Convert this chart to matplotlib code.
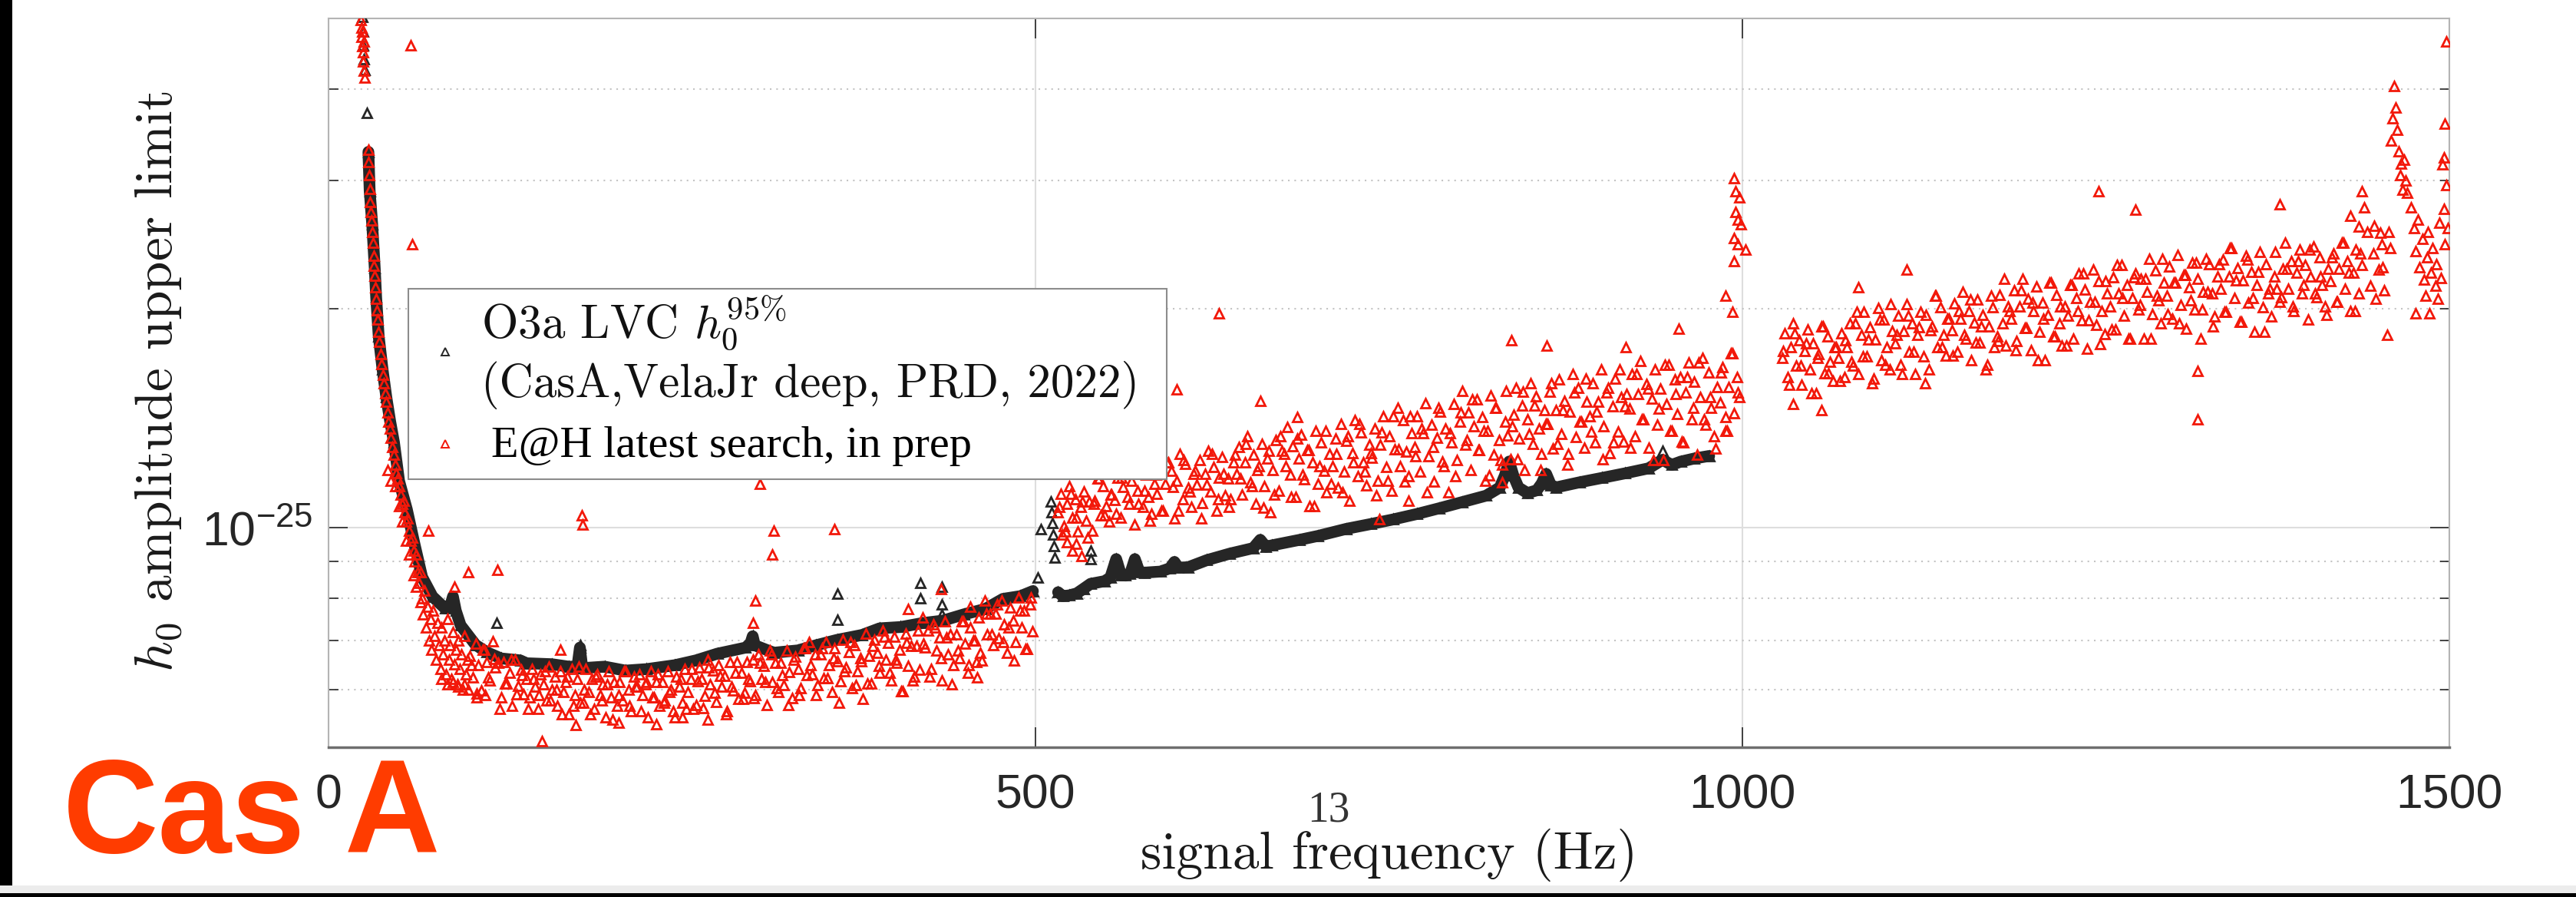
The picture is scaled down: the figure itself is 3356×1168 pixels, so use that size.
import numpy as np
import matplotlib
matplotlib.use("Agg")
import matplotlib.pyplot as plt
from matplotlib.lines import Line2D
from matplotlib.patches import Rectangle
from matplotlib.ticker import FixedLocator, FixedFormatter, NullFormatter


W, H = 3356, 1168
DPI = 100
H_UNIT = 1e-26  # every h0 value below is in units of 1e-26

# ---- O3a LVC h0 95% upper limits (black) ----
black_low_f = [28.2, 29.1, 30.9, 32.7, 33.7, 35.5,
               38.2, 40.9, 43.6, 46.3, 49.9, 55.4, 60.8, 66.2, 73.5, 82.5,
               86.0, 88.0, 90.0, 93.4, 104.0, 112.0, 122.0, 135.5, 140.0, 157.9,
               170.0, 176.0, 177.8, 179.5, 195.3, 210.0, 225.0, 245.0, 260.0, 275.0,
               295.0, 298.5, 300.0, 301.5, 314.9, 332.0, 344.7, 359.8, 377.4, 389.8,
               404.7, 419.7, 434.6, 449.5, 464.5, 477.0, 489.4, 498.2]
black_low_h = [32.8, 29.0, 26.1, 22.7, 20.7, 18.3,
               16.5, 15.1, 14.0, 13.1, 11.6, 10.6, 9.5, 8.56, 8.05, 7.75,
               7.8, 8.05, 7.7, 7.35, 6.91, 6.75, 6.62, 6.58, 6.52, 6.5,
               6.45, 6.45, 6.85, 6.42, 6.45, 6.37, 6.4, 6.48, 6.58, 6.72,
               6.85, 6.95, 7.1, 6.9, 6.74, 6.79, 6.9, 7.02, 7.13, 7.28,
               7.31, 7.4, 7.46, 7.61, 7.74, 7.99, 8.06, 8.19]

black_mid_f = [516.0, 519.3, 524.0, 529.2, 534.0, 539.0, 548.9, 553.0, 557.1, 560.5,
               563.7, 567.0, 570.3, 573.5, 576.9, 588.4, 595.0, 598.3, 601.0, 608.0,
               621.2, 637.6, 654.0, 659.0, 663.0, 667.0, 687.0, 700.0, 720.0, 737.0,
               753.0, 770.0, 785.7, 802.0, 818.7, 828.4, 832.0, 835.0, 838.0, 841.6,
               848.0, 854.6, 858.0, 861.2, 864.5, 868.0, 885.0, 900.8, 917.0, 933.7,
               943.5, 950.0, 956.5, 966.0, 976.5]
black_mid_h = [8.16, 8.06, 8.08, 8.13, 8.25, 8.38, 8.45, 8.55, 9.06, 8.62,
               8.6, 8.65, 9.06, 8.7, 8.68, 8.71, 8.8, 8.98, 8.82, 8.83,
               9.03, 9.22, 9.38, 9.63, 9.42, 9.46, 9.63, 9.75, 9.97, 10.12,
               10.27, 10.45, 10.64, 10.85, 11.07, 11.36, 11.8, 12.33, 11.8, 11.36,
               11.16, 11.26, 11.5, 11.86, 11.45, 11.36, 11.55, 11.71, 11.88, 12.07,
               12.4, 12.2, 12.33, 12.45, 12.55]

black_extra_f = [23.7, 24.3, 24.6, 25.0, 25.5, 27.3, 119.0, 177.8, 360.0, 360.0,
                 418.6, 418.6, 434.0, 434.0, 434.0, 501.6, 504.0, 511.0, 511.5, 512.0,
                 512.5, 513.0, 513.5, 539.0, 539.0, 943.5]
black_extra_h = [50.2, 48.0, 45.9, 44.0, 42.5, 37.1, 7.41, 6.9, 8.13, 7.48,
                 8.4, 8.0, 7.6, 7.85, 8.3, 8.55, 9.97, 10.87, 10.5, 10.15,
                 9.8, 9.45, 9.1, 9.3, 9.06, 12.76]

# ---- E@H latest search (red) ----
red_a_f = [23.0, 23.3, 23.6, 24.0, 24.0, 24.3, 24.6, 24.8, 25.0, 25.3,
           28.0, 28.3, 28.7, 29.1, 29.5, 29.9, 30.3, 30.8, 31.3, 31.8,
           32.3, 32.8, 33.3, 33.8, 34.3, 34.8, 35.4, 36.0, 36.8, 37.6,
           38.4, 39.2, 40.0, 40.8, 41.6, 42.4, 43.2, 44.0, 45.0, 46.0,
           47.0, 48.0, 49.0, 50.0, 51.0, 52.0, 53.0, 54.0, 55.0, 56.0,
           57.0, 58.0, 59.0, 60.0, 61.0, 62.0, 63.0, 64.0, 65.0, 66.0,
           67.0, 68.0, 69.0, 70.0, 71.0, 72.0, 73.0, 74.0, 75.0, 76.0,
           77.0, 78.0, 79.0, 80.0, 81.0, 82.0, 83.0, 84.0, 85.0, 86.0,
           87.0, 88.0, 89.0, 90.0, 91.0, 92.0, 93.0, 94.0, 95.0, 96.0,
           97.0, 98.0, 99.0, 42.0, 44.0, 47.0, 50.0, 52.0, 55.0, 57.0,
           60.0, 62.0, 65.0, 80.0, 84.0, 88.0, 92.0, 96.0]
red_a_h = [49.8, 48.6, 47.2, 45.8, 48.0, 44.9, 43.6, 46.5, 42.4, 41.5,
           33.0, 31.8, 30.5, 29.2, 28.0, 27.1, 26.4, 25.5, 24.6, 23.6,
           22.9, 22.2, 21.4, 20.6, 19.9, 19.3, 18.6, 18.0, 17.3, 16.8,
           16.2, 15.8, 15.3, 14.9, 14.4, 14.0, 13.7, 13.3, 12.9, 12.6,
           12.2, 11.9, 11.7, 11.4, 11.1, 10.8, 10.9, 10.5, 10.2, 10.3,
           9.9, 9.6, 9.7, 9.3, 9.0, 9.2, 8.7, 8.4, 8.7, 8.0,
           7.6, 8.2, 7.3, 7.8, 7.0, 7.5, 6.8, 7.7, 7.1, 6.6,
           7.4, 6.9, 6.4, 7.3, 6.7, 7.0, 6.3, 7.5, 6.6, 6.9,
           6.2, 7.2, 6.5, 6.8, 6.1, 7.0, 6.4, 6.7, 6.0, 7.1,
           6.3, 6.6, 6.0, 12.0, 11.6, 11.4, 10.7, 10.2, 9.6, 9.2,
           8.6, 8.3, 7.9, 6.2, 6.1, 6.15, 6.05, 6.1]

red_low_f = [100, 102, 104, 106, 108, 110, 112, 114, 116, 118, 120, 122, 124, 126, 128, 130, 132, 134, 136, 138,
             140, 142, 144, 146, 148, 150, 152, 154, 156, 158, 160, 162, 164, 166, 168, 170, 172, 174, 176, 178,
             180, 182, 184, 186, 188, 190, 192, 194, 196, 198, 200, 202, 204, 206, 208, 210, 212, 214, 216, 218,
             220, 222, 224, 226, 228, 230, 232, 234, 236, 238, 240, 242, 244, 246, 248, 250, 252, 254, 256, 258,
             260, 262, 264, 266, 268, 270, 272, 274, 276, 278, 280, 282, 284, 286, 288, 290, 292, 294, 296, 298,
             300, 302, 304, 306, 308, 310, 312, 314, 316, 318, 320, 322, 324, 326, 328, 330, 332, 334, 336, 338,
             340, 342, 344, 346, 348, 350, 352, 354, 356, 358, 360, 362, 364, 366, 368, 370, 372, 374, 376, 378,
             380, 382, 384, 386, 388, 390, 392, 394, 396, 398, 400, 402, 404, 406, 408, 410, 412, 414, 416, 418,
             420, 422, 424, 426, 428, 430, 432, 434, 436, 438, 440, 442, 444, 446, 448, 450, 452, 454, 456, 458,
             460, 462, 464, 466, 468, 470, 472, 474, 476, 478, 480, 482, 484, 486, 488, 490, 492, 494, 496, 498]
red_low_h = [6.68, 6.24, 6.93, 6.49, 5.99, 6.80, 6.55, 6.18, 6.99, 6.43,
             6.53, 5.86, 6.54, 6.12, 6.33, 5.70, 6.60, 6.07, 6.39, 5.91,
             6.20, 5.85, 6.40, 6.05, 5.65, 6.30, 6.10, 5.80, 6.45, 6.00,
             6.25, 5.70, 6.35, 5.95, 6.15, 5.55, 6.40, 5.90, 6.20, 5.75,
             5.75, 6.40, 5.95, 6.20, 5.65, 6.30, 5.90, 6.10, 5.50, 6.35,
             5.85, 6.15, 5.70, 6.15, 5.80, 6.35, 6.00, 5.60, 6.25, 6.05,
             6.30, 5.90, 6.10, 5.50, 6.35, 5.85, 6.15, 5.70, 6.15, 5.80,
             6.35, 6.00, 5.60, 6.25, 6.05, 5.75, 6.40, 5.95, 6.20, 5.65,
             5.72, 6.43, 6.21, 5.88, 6.60, 6.10, 6.38, 5.77, 6.49, 6.05,
             6.27, 5.61, 6.54, 5.99, 6.32, 5.83, 6.32, 5.94, 6.54, 6.16,
             6.59, 5.90, 6.71, 6.21, 6.46, 5.71, 6.78, 6.15, 6.53, 5.96,
             6.53, 6.09, 6.78, 6.34, 5.84, 6.65, 6.40, 6.03, 6.84, 6.28,
             6.97, 6.29, 6.70, 6.09, 6.70, 6.22, 6.97, 6.49, 5.95, 6.83,
             6.56, 6.16, 7.03, 6.43, 6.76, 6.02, 6.90, 6.36, 6.63, 5.82,
             7.16, 6.67, 6.11, 7.02, 6.74, 6.32, 7.23, 6.60, 6.95, 6.18,
             7.09, 6.53, 6.81, 5.97, 7.16, 6.46, 6.88, 6.25, 6.88, 6.39,
             7.53, 6.85, 7.23, 6.40, 7.38, 6.78, 7.08, 6.18, 7.45, 6.70,
             7.15, 6.48, 7.15, 6.63, 7.45, 6.93, 6.33, 7.30, 7.00, 6.55,
             7.54, 6.58, 7.94, 7.14, 7.62, 6.90, 7.62, 7.06, 7.94, 7.38,
             6.74, 7.78, 7.46, 6.98, 8.02, 7.30, 7.70, 6.82, 7.86, 7.22]

red_low2_f = [101, 105, 109, 113, 117, 121, 125, 129, 133, 137, 141, 145, 149, 153, 157, 161, 165, 169, 173, 177,
              181, 185, 189, 193, 197, 201, 205, 209, 213, 217, 221, 225, 229, 233, 237, 241, 245, 249, 253, 257,
              261, 265, 269, 273, 277, 281, 285, 289, 293, 297, 301, 305, 309, 313, 317, 321, 325, 329, 333, 337,
              341, 345, 349, 353, 357, 361, 365, 369, 373, 377, 381, 385, 389, 393, 397, 401, 405, 409, 413, 417,
              421, 425, 429, 433, 437, 441, 445, 449, 453, 457, 461, 465, 469, 473, 477, 481, 485, 489, 493, 497]
red_low2_h = [6.49, 5.93, 6.80, 6.24, 6.61, 5.65, 6.12, 6.60, 5.91, 6.28,
              5.65, 6.20, 5.90, 6.35, 5.80, 6.00, 5.55, 6.25, 5.70, 6.45,
              6.00, 5.55, 6.25, 5.80, 6.10, 5.45, 5.90, 6.35, 5.70, 6.05,
              5.60, 6.15, 5.85, 6.30, 5.75, 5.95, 5.50, 6.20, 5.65, 6.40,
              6.16, 5.66, 6.43, 5.94, 6.27, 5.55, 6.05, 6.54, 5.83, 6.21,
              5.84, 6.53, 6.15, 6.71, 6.03, 6.28, 5.71, 6.59, 5.90, 6.84,
              6.49, 5.89, 6.83, 6.22, 6.63, 5.75, 6.36, 6.97, 6.09, 6.56,
              6.11, 6.88, 6.46, 7.09, 6.32, 6.60, 5.97, 6.95, 6.18, 7.23,
              6.93, 6.25, 7.30, 6.63, 7.08, 6.10, 6.78, 7.45, 6.48, 7.00,
              6.74, 7.62, 7.14, 7.86, 6.98, 7.30, 6.58, 7.70, 6.82, 8.02]

red_mid_f = [516, 518, 520, 522, 524, 526, 528, 530, 532, 534, 536, 538, 540, 542, 544, 546, 548, 550, 552, 554,
             556, 558, 560, 562, 564, 566, 568, 570, 572, 574, 576, 578, 580, 582, 584, 586, 588, 590, 592, 594,
             596, 598, 600, 602, 604, 606, 608, 610, 612, 614, 616, 618, 620, 622, 624, 626, 628, 630, 632, 634,
             636, 638, 640, 642, 644, 646, 648, 650, 652, 654, 656, 658, 660, 662, 664, 666, 668, 670, 672, 674,
             676, 678, 680, 682, 684, 686, 688, 690, 692, 694, 696, 698, 700, 702, 704, 706, 708, 710, 712, 714,
             716, 718, 720, 722, 724, 726, 728, 730, 732, 734, 736, 738, 740, 742, 744, 746, 748, 750, 752, 754,
             756, 758, 760, 762, 764, 766, 768, 770, 772, 774, 776, 778, 780, 782, 784, 786, 788, 790, 792, 794,
             796, 798, 800, 802, 804, 806, 808, 810, 812, 814, 816, 818, 820, 822, 824, 826, 828, 830, 832, 834,
             836, 838, 840, 842, 844, 846, 848, 850, 852, 854, 856, 858, 860, 862, 864, 866, 868, 870, 872, 874,
             876, 878, 880, 882, 884, 886, 888, 890, 892, 894, 896, 898, 900, 902, 904, 906, 908, 910, 912, 914,
             916, 918, 920, 922, 924, 926, 928, 930, 932, 934, 936, 938, 940, 942, 944, 946, 948, 950, 952, 954,
             956, 958, 960, 962, 964, 966, 968, 970, 972, 974, 976, 978, 980, 982, 984, 986, 988, 990, 992, 994,
             996, 998]
red_mid_h = [10.51, 11.14, 10.06, 10.78, 11.41, 10.33, 10.96, 9.88, 10.69, 11.23,
             10.24, 10.87, 9.90, 10.90, 11.70, 10.40, 11.40, 10.70, 10.20, 11.10,
             10.91, 11.71, 10.33, 11.37, 12.06, 10.79, 11.60, 10.10, 11.25, 12.17,
             10.68, 11.83, 11.02, 10.45, 11.48, 11.14, 11.94, 10.56, 11.48, 12.29,
             11.99, 10.30, 11.60, 12.64, 10.95, 12.25, 11.34, 10.69, 11.86, 11.47,
             12.38, 10.82, 11.86, 12.77, 11.21, 12.12, 10.56, 11.73, 12.51, 11.08,
             11.70, 10.95, 12.30, 11.85, 12.90, 11.10, 12.30, 13.35, 11.55, 12.60,
             10.80, 12.15, 13.05, 11.40, 12.45, 10.50, 12.00, 13.20, 11.25, 12.75,
             12.62, 13.74, 11.82, 12.94, 11.02, 12.46, 13.42, 11.66, 12.78, 10.70,
             12.30, 13.58, 11.50, 13.10, 11.98, 11.18, 12.62, 12.14, 13.26, 11.34,
             13.88, 11.95, 13.18, 10.90, 12.65, 14.05, 11.78, 13.53, 12.30, 11.43,
             13.00, 12.48, 13.70, 11.60, 13.00, 14.23, 12.13, 13.35, 11.25, 12.83,
             14.62, 12.15, 14.05, 12.72, 11.77, 13.48, 12.91, 14.24, 11.96, 13.48,
             14.81, 12.53, 13.86, 11.58, 13.29, 14.43, 12.34, 13.67, 11.20, 13.10,
             14.80, 12.40, 14.00, 15.40, 13.00, 14.40, 12.00, 13.80, 15.00, 12.80,
             14.20, 11.60, 13.60, 15.20, 12.60, 14.60, 13.20, 12.20, 14.00, 13.40,
             12.42, 14.31, 15.57, 13.26, 14.73, 12.00, 14.10, 15.78, 13.05, 15.15,
             13.68, 12.63, 14.52, 13.89, 15.36, 12.84, 14.52, 15.99, 13.47, 14.94,
             12.20, 14.45, 16.25, 13.33, 15.58, 14.00, 12.88, 14.90, 14.23, 15.80,
             13.10, 14.90, 16.48, 13.78, 15.35, 12.65, 14.68, 16.03, 13.55, 15.13,
             13.12, 15.28, 14.56, 16.24, 13.36, 15.28, 16.96, 14.08, 15.76, 12.88,
             15.04, 16.48, 13.84, 15.52, 12.40, 14.80, 16.72, 13.60, 16.00, 14.32,
             16.10, 13.10, 15.35, 16.85, 14.10, 15.85, 12.60, 15.10, 17.10, 13.85,
             16.35, 14.60, 13.35, 15.60, 14.85, 16.60, 13.60, 15.60, 17.35, 14.35,
             16.10, 15.10]

red_mid2_f = [517, 521, 525, 529, 533, 537, 541, 545, 549, 553, 557, 561, 565, 569, 573, 577, 581, 585, 589, 593,
              597, 601, 605, 609, 613, 617, 621, 625, 629, 633, 637, 641, 645, 649, 653, 657, 661, 665, 669, 673,
              677, 681, 685, 689, 693, 697, 701, 705, 709, 713, 717, 721, 725, 729, 733, 737, 741, 745, 749, 753,
              757, 761, 765, 769, 773, 777, 781, 785, 789, 793, 797, 801, 805, 809, 813, 817, 821, 825, 829, 833,
              837, 841, 845, 849, 853, 857, 861, 865, 869, 873, 877, 881, 885, 889, 893, 897, 901, 905, 909, 913,
              917, 921, 925, 929, 933, 937, 941, 945, 949, 953, 957, 961, 965, 969, 973, 977, 981, 985, 989, 993,
              997]
red_mid2_h = [10.69, 9.88, 11.14, 10.33, 10.87, 9.70, 10.80, 11.70, 10.40, 11.10,
              10.45, 11.71, 11.02, 12.06, 10.79, 11.25, 10.22, 11.83, 10.56, 12.29,
              11.37, 10.56, 12.38, 11.21, 11.99, 10.30, 11.47, 12.64, 10.95, 11.86,
              10.69, 12.60, 11.70, 13.05, 11.40, 12.00, 10.65, 12.75, 11.10, 13.35,
              12.15, 11.02, 13.26, 11.82, 12.78, 10.70, 12.14, 13.58, 11.50, 12.62,
              11.18, 13.35, 12.30, 13.88, 11.95, 12.65, 11.08, 13.53, 11.60, 14.23,
              12.83, 11.58, 14.24, 12.53, 13.67, 11.20, 12.91, 14.62, 12.15, 13.48,
              11.77, 14.40, 13.20, 15.00, 12.80, 13.60, 11.80, 14.60, 12.40, 15.40,
              13.80, 12.42, 15.36, 13.47, 14.73, 12.00, 13.89, 15.78, 13.05, 14.52,
              12.63, 15.35, 14.00, 16.03, 13.55, 14.45, 12.43, 15.58, 13.10, 16.48,
              14.68, 12.88, 16.24, 14.08, 15.52, 12.40, 14.56, 16.72, 13.60, 15.28,
              13.12, 16.10, 14.60, 16.85, 14.10, 15.10, 12.85, 16.35, 13.60, 17.35,
              15.35]

red_high_f = [1028, 1030, 1032, 1034, 1036, 1038, 1040, 1042, 1044, 1046, 1048, 1050, 1052, 1054, 1056, 1058,
              1060, 1062, 1064, 1066, 1068, 1070, 1072, 1074, 1076, 1078,
              1080, 1082, 1084, 1086, 1088, 1090, 1092, 1094, 1096, 1098, 1100, 1102, 1104, 1106, 1108, 1110,
              1112, 1114, 1116, 1118, 1120, 1122, 1124, 1126, 1128,
              1130, 1132, 1134, 1136, 1138, 1140, 1142, 1144, 1146, 1148, 1150, 1152, 1154, 1156, 1158, 1160,
              1162, 1164, 1166, 1168, 1170, 1172, 1174, 1176, 1178,
              1180, 1182, 1184, 1186, 1188, 1190, 1192, 1194, 1196, 1198, 1200, 1202, 1204, 1206, 1208, 1210,
              1212, 1214, 1216, 1218, 1220, 1222, 1224, 1226, 1228,
              1230, 1232, 1234, 1236, 1238, 1240, 1242, 1244, 1246, 1248, 1250, 1252, 1254, 1256, 1258, 1260,
              1262, 1264, 1266, 1268, 1270, 1272, 1274, 1276, 1278,
              1280, 1282, 1284, 1286, 1288, 1290, 1292, 1294, 1296, 1298, 1300, 1302, 1304, 1306, 1308, 1310,
              1312, 1314, 1316, 1318, 1320, 1322, 1324, 1326, 1328,
              1330, 1332, 1334, 1336, 1338, 1340, 1342, 1344, 1346, 1348, 1350, 1352, 1354, 1356, 1358, 1360,
              1362, 1364, 1366, 1368, 1370, 1372, 1374, 1376, 1378,
              1380, 1382, 1384, 1386, 1388, 1390, 1392, 1394, 1396, 1398, 1400, 1402, 1404, 1406, 1408, 1410,
              1412, 1414, 1416, 1418, 1420, 1422, 1424, 1426, 1428, 1430, 1432, 1434, 1436, 1438]
red_high_h = [17.10, 18.50, 16.10, 17.70, 19.10, 16.70, 18.10, 15.70, 17.50, 18.70,
              16.50, 17.90, 15.30, 17.30, 18.90, 16.30, 18.30, 16.90, 15.90, 17.70,
              17.10, 18.50, 16.10, 17.70, 19.10, 16.70,
              19.09, 16.27, 18.39, 19.80, 17.21, 18.86, 15.80, 18.15, 20.03, 16.98,
              19.33, 17.68, 16.51, 18.62, 17.92, 19.56, 16.74, 18.62, 20.27, 17.45,
              19.09, 16.27, 18.39, 19.80, 17.21,
              19.62, 16.50, 18.90, 20.82, 17.70, 20.10, 18.42, 17.22, 19.38, 18.66,
              20.34, 17.46, 19.38, 21.06, 18.18, 19.86, 16.98, 19.14, 20.58, 17.94,
              19.62, 16.50, 18.90, 20.82, 17.70,
              18.30, 20.90, 19.08, 17.78, 20.12, 19.34, 21.16, 18.04, 20.12, 21.94,
              18.82, 20.64, 17.52, 19.86, 21.42, 18.56, 20.38, 17.00, 19.60, 21.68,
              18.30, 20.90, 19.08, 17.78, 20.12,
              19.56, 21.52, 18.16, 20.68, 22.36, 19.28, 21.24, 17.60, 20.40, 22.64,
              19.00, 21.80, 19.84, 18.44, 20.96, 20.12, 22.08, 18.72, 20.96, 22.92,
              19.56, 21.52, 18.16, 20.68, 22.36,
              19.94, 21.97, 18.20, 21.10, 23.42, 19.65, 22.55, 20.52, 19.07, 21.68,
              20.81, 22.84, 19.36, 21.68, 23.71, 20.23, 22.26, 18.78, 21.39, 23.13,
              19.94, 21.97, 18.20, 21.10, 23.42,
              23.03, 20.96, 19.49, 22.14, 21.26, 23.32, 19.78, 22.14, 24.21, 20.67,
              22.73, 19.19, 21.85, 23.62, 20.37, 22.44, 18.60, 21.55, 23.91, 20.08,
              23.03, 20.96, 19.49, 22.14, 21.26,
              20.42, 22.66, 24.62, 21.26, 23.22, 19.86, 22.38, 24.06, 20.98, 22.94,
              19.30, 22.10, 24.34, 20.70, 23.50, 21.54, 20.14, 22.66, 21.82, 23.78,
              20.42, 22.66, 24.62, 21.26, 23.22, 19.86, 22.38, 24.06, 20.98, 22.94]

red_high2_f = [1029, 1033, 1037, 1041, 1045, 1049, 1053, 1057, 1061, 1065, 1069, 1073, 1077,
               1081, 1085, 1089, 1093, 1097, 1101, 1105, 1109, 1113, 1117, 1121, 1125, 1129,
               1133, 1137, 1141, 1145, 1149, 1153, 1157, 1161, 1165, 1169, 1173, 1177,
               1181, 1185, 1189, 1193, 1197, 1201, 1205, 1209, 1213, 1217, 1221, 1225, 1229,
               1233, 1237, 1241, 1245, 1249, 1253, 1257, 1261, 1265, 1269, 1273, 1277,
               1281, 1285, 1289, 1293, 1297, 1301, 1305, 1309, 1313, 1317, 1321, 1325, 1329,
               1333, 1337, 1341, 1345, 1349, 1353, 1357, 1361, 1365, 1369, 1373, 1377,
               1381, 1385, 1389, 1393, 1397, 1401, 1405, 1409, 1413, 1417, 1421, 1425, 1429, 1433, 1437]
red_high2_h = [17.50, 15.70, 18.50, 16.70, 17.90, 15.30, 17.10, 18.90, 16.30, 17.70, 15.90, 18.10, 16.90,
               19.80, 17.21, 18.15, 16.04, 19.33, 16.74, 20.27, 18.39, 16.27, 19.56, 17.45, 18.86, 15.80,
               18.66, 20.82, 17.70, 19.38, 17.22, 19.86, 18.42, 20.58, 17.94, 18.90, 16.74, 20.10,
               18.04, 21.94, 19.86, 17.52, 21.16, 18.82, 20.38, 17.00, 19.34, 21.68, 18.30, 20.12, 17.78,
               21.52, 19.84, 22.36, 19.28, 20.40, 17.88, 21.80, 18.72, 22.92, 20.68, 18.16, 22.08,
               20.23, 21.97, 18.20, 20.81, 23.42, 19.65, 21.68, 19.07, 22.26, 20.52, 23.13, 19.94, 21.10,
               18.90, 23.03, 19.78, 24.21, 21.85, 19.19, 23.32, 20.67, 22.44, 18.60, 21.26, 23.91,
               20.70, 22.66, 20.14, 23.22, 21.54, 24.06, 20.98, 22.10, 19.58, 23.50, 20.42, 24.62, 22.38, 19.86, 23.78]

red_edge_f = [1440, 1442, 1444, 1446, 1447, 1448, 1450, 1451, 1452, 1453,
              1454, 1456, 1457, 1458, 1459, 1460, 1461, 1462, 1463, 1464,
              1465, 1466, 1467, 1468, 1469, 1470, 1473, 1475, 1476, 1476,
              1478, 1479, 1481, 1482, 1483, 1484, 1485, 1486, 1487, 1488,
              1490, 1491, 1492, 1493, 1494, 1495, 1496, 1496, 1497, 1497,
              1498, 1498, 1499]
red_edge_h = [27.5, 25.5, 21.5, 23.8, 26.0, 20.6, 22.6, 25.4, 24.5, 22.8,
              21.2, 18.4, 25.5, 24.2, 34.0, 36.5, 40.4, 37.7, 35.2, 32.9,
              30.5, 31.6, 29.1, 32.0, 30.0, 28.8, 27.5, 25.8, 24.0, 19.7,
              26.5, 22.8, 24.9, 21.9, 20.8, 23.5, 25.5, 19.7, 22.4, 24.2,
              21.5, 23.0, 20.6, 26.2, 22.0, 31.5, 27.4, 32.2, 24.5, 35.9,
              29.5, 46.5, 25.8]

red_extra_f = [58.1, 59.0, 70.8, 88.8, 98.8, 119.6, 151.0, 164.0, 179.0, 179.5,
               300.0, 302.0, 305.0, 314.0, 315.0, 358.0, 410.0, 433.0, 454.0, 459.0,
               105.0, 111.0, 175.0, 205.0, 250.0, 232.0, 268.0, 519.0, 522.0, 526.0,
               529.0, 532.6, 600.0, 629.5, 659.0, 685.0, 743.0, 764.0, 830.0, 836.6,
               861.6, 917.5, 955.0, 988.0, 988.0, 993.0, 994.0, 994.0, 994.0, 995.0,
               995.0, 997.0, 997.0, 998.0, 999.0, 1002.0, 1036.0, 1056.0, 1082.0, 1116.0,
               1252.0, 1278.0, 1322.0, 1322.0, 1380.0, 1430.0, 1436.0, 1438.0]
red_extra_h = [45.9, 24.5, 9.9, 8.3, 8.69, 8.76, 5.1, 6.8, 10.4, 10.1,
               7.4, 7.95, 11.5, 9.2, 9.9, 9.95, 7.74, 8.25, 7.8, 6.24,
               5.85, 5.9, 5.37, 5.4, 5.5, 5.38, 5.45, 9.8, 9.55, 9.3,
               9.5, 9.14, 15.5, 19.7, 14.95, 14.2, 10.27, 10.9, 11.56, 18.1,
               17.8, 17.7, 18.75, 20.8, 14.2, 19.8, 30.2, 25.0, 23.2, 29.0,
               27.1, 26.5, 24.5, 28.4, 26.1, 24.1, 14.8, 14.5, 21.4, 22.6,
               29.0, 27.3, 14.1, 16.4, 27.8, 26.8, 25.9, 29.0]

x_ticks = [0, 500, 1000, 1500]
y_major = [1e-25]
y_minor = [6e-26, 7e-26, 8e-26, 9e-26, 2e-25, 3e-25, 4e-25]

RED = "#f2180a"
BLACK = "#262626"
DARK = "#262626"
ORANGE = "#ff3c00"
CM = dict(family="cmr10", math_fontfamily="cm")

plt.rcParams["font.family"] = ["Liberation Sans", "DejaVu Sans"]
plt.rcParams["mathtext.default"] = "regular"


def fx(px):
    return px / W


def fy(py):
    return 1 - py / H


def tri(ax, f, h, color, z):
    ax.plot(f, np.array(h) * H_UNIT, ls="none", marker="^", ms=9,
            mfc="none", mec=color, mew=2.0, zorder=z)


fig = plt.figure(figsize=(W / DPI, H / DPI), dpi=DPI)
ax = fig.add_axes([fx(428), fy(973), fx(3191) - fx(428), fy(24) - fy(973)])

ax.set_yscale("log")
ax.set_xlim(0, 1500)
ax.set_ylim(5e-26, 5e-25)

# black band: thick trace through the points plus the triangles themselves
for f, h in [(black_low_f, black_low_h), (black_mid_f, black_mid_h)]:
    ax.plot(f, np.array(h) * H_UNIT, color=BLACK, lw=11,
            solid_joinstyle="round", solid_capstyle="round", zorder=3)
    tri(ax, f, h, BLACK, 3)
tri(ax, black_extra_f, black_extra_h, BLACK, 3)

for f, h in [(red_a_f, red_a_h), (red_low_f, red_low_h), (red_low2_f, red_low2_h),
             (red_mid_f, red_mid_h), (red_mid2_f, red_mid2_h),
             (red_high_f, red_high_h), (red_high2_f, red_high2_h),
             (red_edge_f, red_edge_h), (red_extra_f, red_extra_h)]:
    tri(ax, f, h, RED, 4)

# axes styling, MATLAB-like
ax.set_xticks(x_ticks)
ax.yaxis.set_major_locator(FixedLocator(y_major))
ax.yaxis.set_major_formatter(FixedFormatter([r"$10^{-25}$"]))
ax.yaxis.set_minor_locator(FixedLocator(y_minor))
ax.yaxis.set_minor_formatter(NullFormatter())
ax.xaxis.set_minor_locator(FixedLocator([]))

ax.set_axisbelow(True)
ax.grid(which="major", color="#dedede", lw=1.5, ls="-")
ax.grid(which="minor", axis="y", color="#c4c4c4", lw=1.5, ls=(0, (1, 3)))

ax.tick_params(which="both", direction="in", top=True, right=True,
               color=DARK, labelcolor=DARK)
ax.tick_params(axis="x", which="major", length=19, width=1.2, labelsize=45, pad=24)
ax.tick_params(axis="y", which="major", length=18, width=1.2, labelsize=45, pad=15)
ax.tick_params(axis="y", which="minor", length=9, width=1.2)

for s in ax.spines.values():
    s.set_color("#b4b4b4")
    s.set_linewidth(1.5)
ax.spines["bottom"].set_color("#6e6e6e")
ax.spines["bottom"].set_linewidth(2.5)

ax.set_ylabel(r"$\mathit{h}_{\mathrm{0}}$ amplitude upper limit", fontsize=50,
              color="#1a1a1a", **CM)
ax.yaxis.set_label_coords(-0.080, 0.5016)
ax.yaxis.label.set_va("center")
ax.set_xlabel("signal frequency (Hz)", fontsize=50, color="#1a1a1a", **CM)
ax.xaxis.set_label_coords(0.5, -0.1475)
ax.xaxis.label.set_va("center")

# legend box drawn by hand
fig.add_artist(Rectangle((fx(532), fy(624)), fx(1520) - fx(532), fy(376) - fy(624),
                         transform=fig.transFigure, facecolor="white",
                         edgecolor="#8c8c8c", lw=1.5, zorder=5))
for py, c in [(458, BLACK), (578, RED)]:
    fig.add_artist(Line2D([fx(580)], [fy(py)], transform=fig.transFigure, ls="none",
                          marker="^", ms=6.5, mfc="none", mec=c, mew=1.4, zorder=6))
fig.text(fx(627), fy(440), r"O3a LVC $\mathit{h}_{\mathrm{0}}^{\mathrm{95\%}}$",
         fontsize=44, va="baseline", ha="left", color="#111111", zorder=6, **CM)
fig.text(fx(627), fy(517), "(CasA,VelaJr deep, PRD, 2022)",
         fontsize=44, va="baseline", ha="left", color="#111111", zorder=6, **CM)
fig.text(fx(640), fy(595), "E@H latest search, in prep", family="Liberation Serif",
         fontsize=42, va="baseline", ha="left", color="black", zorder=6)

# slide decorations
fig.text(fx(82), fy(1110), "Cas", fontsize=124, fontweight="bold", color=ORANGE,
         va="baseline", ha="left", zorder=7)
fig.text(fx(449), fy(1110), "A", fontsize=124, fontweight="bold", color=ORANGE,
         va="baseline", ha="left", zorder=7)
fig.text(fx(1731), fy(1056), "13", family="Liberation Serif", fontsize=40,
         color="#333333", ha="center", va="center", zorder=7)

fig.add_artist(Rectangle((0, 0), fx(16), 1, transform=fig.transFigure,
                         facecolor="black", edgecolor="none", zorder=10))
fig.add_artist(Rectangle((0, fy(1163)), 1, fy(1153) - fy(1163), transform=fig.transFigure,
                         facecolor="#ececec", edgecolor="none", zorder=10))
fig.add_artist(Rectangle((0, 0), 1, fy(1163), transform=fig.transFigure,
                         facecolor="black", edgecolor="none", zorder=10))

fig.savefig("out.png", dpi=DPI)
